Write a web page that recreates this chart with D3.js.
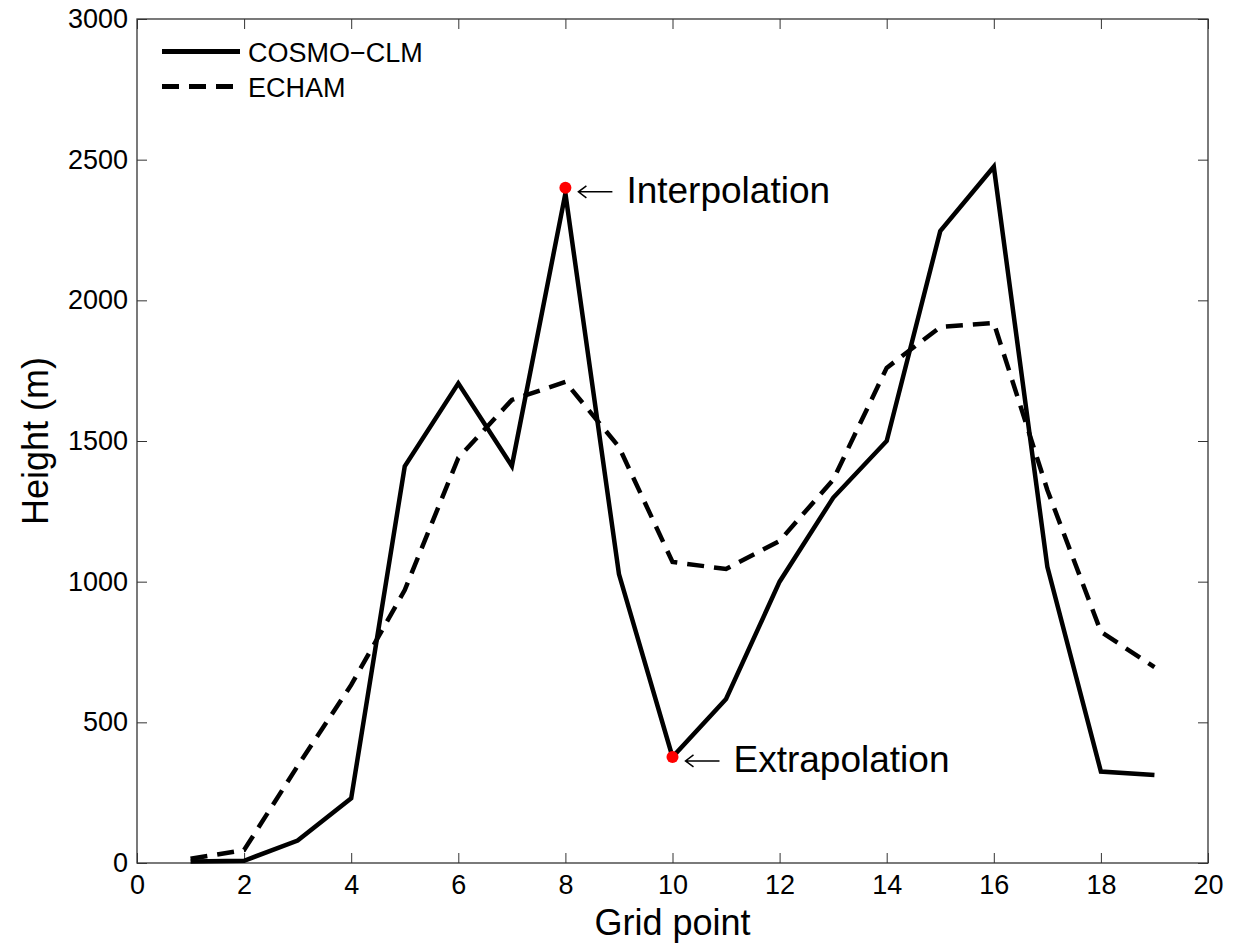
<!DOCTYPE html>
<html><head><meta charset="utf-8">
<script src="https://cdn.jsdelivr.net/npm/d3@7"></script>
<style>body{margin:0;background:#fff}svg{display:block}text{font-family:"Liberation Sans",Arial,sans-serif}</style>
</head><body>
<svg id="c" width="1234" height="943"></svg>
<script>
const gridPoints = [1,2,3,4,5,6,7,8,9,10,11,12,13,14,15,16,17,18,19];
const cosmo = [5,8,80,230,1410,1705,1411,2380,1027,377,583,1000,1298,1500,2246,2475,1053,325,313];
const echam = [15,46,345,633,970,1440,1646,1710,1479,1070,1045,1145,1362,1760,1905,1920,1326,822,696];
const xTicks = [0,2,4,6,8,10,12,14,16,18,20];
const yTicks = [0,500,1000,1500,2000,2500,3000];
const markers = [{x:8,y:2400,label:"Interpolation"},{x:10,y:377,label:"Extrapolation"}];
const seriesNames = ["COSMO\u2212CLM","ECHAM"];

const svg = d3.select("#c");
const L=137,R=1208,T=19,B=863;
const x = d3.scaleLinear().domain([0,20]).range([L,R]);
const y = d3.scaleLinear().domain([0,3000]).range([B,T]);
const axCol="#333";

const g = svg.append("g");
// frame
g.append("rect").attr("x",L).attr("y",T).attr("width",R-L).attr("height",B-T)
 .attr("fill","none").attr("stroke",axCol).attr("stroke-width",1.3);

const fs=27;
const ax = d3.axisBottom(x).tickValues(xTicks).tickSize(-10).tickPadding(12).tickFormat(d3.format("d"));
const axG = g.append("g").attr("transform",`translate(0,${B})`).call(ax);
axG.select(".domain").remove();
axG.selectAll("line").attr("stroke",axCol);
axG.selectAll("text").attr("font-size",fs).attr("fill","#000");
const axT = g.append("g").attr("transform",`translate(0,${T})`).call(d3.axisTop(x).tickValues(xTicks).tickSize(-10).tickFormat(""));
axT.select(".domain").remove(); axT.selectAll("line").attr("stroke",axCol);

const ay = d3.axisLeft(y).tickValues(yTicks).tickSize(-10).tickPadding(9).tickFormat(d3.format("d"));
const ayG = g.append("g").attr("transform",`translate(${L},0)`).call(ay);
ayG.select(".domain").remove();
ayG.selectAll("line").attr("stroke",axCol);
ayG.selectAll("text").attr("font-size",fs).attr("fill","#000");
const ayR = g.append("g").attr("transform",`translate(${R},0)`).call(d3.axisRight(y).tickValues(yTicks).tickSize(-10).tickFormat(""));
ayR.select(".domain").remove(); ayR.selectAll("line").attr("stroke",axCol);

// axis labels
svg.append("text").attr("x",(L+R)/2).attr("y",935).attr("text-anchor","middle").attr("font-size",36).text("Grid point");
svg.append("text").attr("transform",`translate(48,${(T+B)/2}) rotate(-90)`).attr("text-anchor","middle").attr("font-size",36).text("Height (m)");

const line = d3.line().x((d,i)=>x(gridPoints[i])).y(d=>y(d));
svg.append("path").datum(echam).attr("d",line).attr("fill","none").attr("stroke","#000")
 .attr("stroke-width",4.5).attr("stroke-dasharray","17,10");
svg.append("path").datum(cosmo).attr("d",line).attr("fill","none").attr("stroke","#000")
 .attr("stroke-width",4.5).attr("stroke-linejoin","miter");

// markers & annotations
markers.forEach(m=>{
  const cx=x(m.x), cy=y(m.y);
  svg.append("circle").attr("cx",cx).attr("cy",cy).attr("r",6).attr("fill","#f00");
  const ax0=cx+13, ax1=cx+47;
  svg.append("path").attr("d",`M${ax1},${cy+4}H${ax0}M${ax0+8},${cy-2}L${ax0},${cy+4}L${ax0+8},${cy+10}`)
   .attr("fill","none").attr("stroke","#000").attr("stroke-width",1.5);
  svg.append("text").attr("x",cx+61).attr("y",cy+15).attr("font-size",37).text(m.label);
});

// legend
const leg = svg.append("g");
seriesNames.forEach((n,i)=>{
  const ly = 51.5+i*35;
  leg.append("line").attr("x1",162).attr("x2",240).attr("y1",ly).attr("y2",ly).attr("stroke","#000")
   .attr("stroke-width",5).attr("stroke-dasharray",i?"17,10":null);
  leg.append("text").attr("x",248).attr("y",ly+10).attr("font-size",27).text(n);
});
</script>
</body></html>
